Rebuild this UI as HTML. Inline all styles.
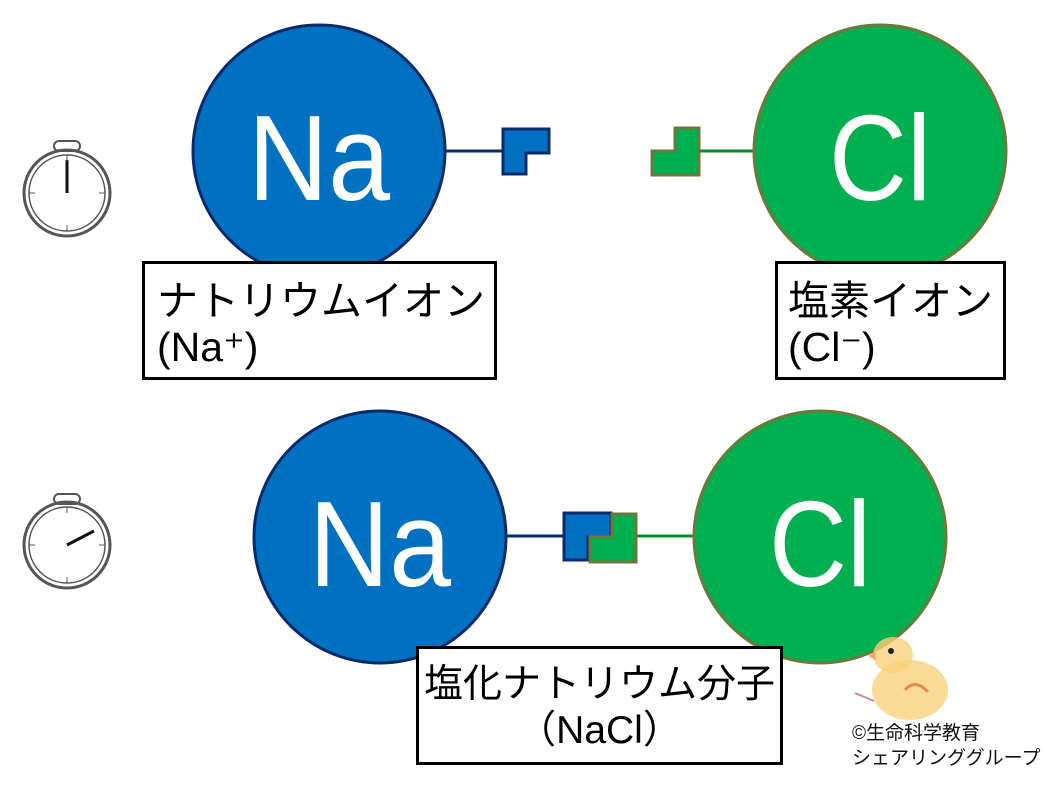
<!DOCTYPE html>
<html><head><meta charset="utf-8"><style>
body{margin:0;background:#fff;width:1063px;height:807px;overflow:hidden;position:relative;font-family:"Liberation Sans","Noto Sans CJK JP",sans-serif;}
svg{position:absolute;left:0;top:0}
.box{position:absolute;border:3px solid #000;background:#fff;box-sizing:border-box;font-size:41px;line-height:46px;color:#000;white-space:nowrap}
</style></head><body>
<svg width="1063" height="807" viewBox="0 0 1063 807">
<line x1="443" y1="151" x2="504" y2="151" stroke="#0b2a6b" stroke-width="3"/>
<circle cx="319" cy="151" r="126" fill="#0070c0" stroke="#0b2a6b" stroke-width="3"/>
<text x="319" y="200" font-size="122" fill="#fff" text-anchor="middle" font-family="Liberation Sans,sans-serif" textLength="142" lengthAdjust="spacingAndGlyphs">Na</text>
<path d="M503 129 H549 V153 H526 V174 H503 Z" fill="#0070c0" stroke="#0b2a6b" stroke-width="3"/>
<line x1="699" y1="151" x2="756" y2="151" stroke="#078b2c" stroke-width="3"/>
<circle cx="880" cy="151" r="126" fill="#00b050" stroke="#6b7a3a" stroke-width="3"/>
<text x="880" y="200" font-size="122" fill="#fff" text-anchor="middle" font-family="Liberation Sans,sans-serif" textLength="102" lengthAdjust="spacingAndGlyphs">Cl</text>
<path d="M652 151 H675 V128 H699 V175 H652 Z" fill="#00b050" stroke="#6b7a3a" stroke-width="3"/>
<line x1="505" y1="536" x2="565" y2="536" stroke="#0b2a6b" stroke-width="3"/>
<circle cx="380" cy="537" r="126" fill="#0070c0" stroke="#0b2a6b" stroke-width="3"/>
<text x="380" y="586" font-size="122" fill="#fff" text-anchor="middle" font-family="Liberation Sans,sans-serif" textLength="142" lengthAdjust="spacingAndGlyphs">Na</text>
<line x1="636" y1="536" x2="696" y2="536" stroke="#078b2c" stroke-width="3"/>
<circle cx="820" cy="537" r="126" fill="#00b050" stroke="#6b7a3a" stroke-width="3"/>
<text x="820" y="586" font-size="122" fill="#fff" text-anchor="middle" font-family="Liberation Sans,sans-serif" textLength="102" lengthAdjust="spacingAndGlyphs">Cl</text>
<path d="M564 513 H611 V537 H588 V560 H564 Z" fill="#0070c0" stroke="#0b2a6b" stroke-width="3"/>
<path d="M590 537 H612 V514 H636 V562 H590 Z" fill="#00b050" stroke="#6b7a3a" stroke-width="3"/>
<g fill="none" stroke="#555">
<rect x="54" y="141" width="26" height="10" rx="5" stroke-width="2"/>
<ellipse cx="67" cy="193" rx="43" ry="43" stroke-width="3"/>
<ellipse cx="67" cy="193" rx="38" ry="38" stroke-width="1.5"/>
<line x1="67" y1="193" x2="67" y2="160" stroke="#111" stroke-width="3"/>
<line x1="29" y1="193" x2="35" y2="193"/><line x1="99" y1="193" x2="105" y2="193"/><line x1="67" y1="225" x2="67" y2="231"/><line x1="67" y1="155" x2="67" y2="161"/>
<rect x="54" y="494" width="26" height="10" rx="5" stroke-width="2"/>
<ellipse cx="67" cy="545" rx="43" ry="43" stroke-width="3"/>
<ellipse cx="67" cy="545" rx="38" ry="38" stroke-width="1.5"/>
<line x1="67" y1="545" x2="94" y2="531" stroke="#111" stroke-width="3"/>
<line x1="29" y1="545" x2="35" y2="545"/><line x1="99" y1="545" x2="105" y2="545"/><line x1="67" y1="577" x2="67" y2="583"/><line x1="67" y1="507" x2="67" y2="513"/>
</g>
<ellipse cx="910" cy="690" rx="38" ry="30" fill="#f9d27a" opacity="0.8"/>
<ellipse cx="893" cy="655" rx="20" ry="18" fill="#f9d27a" opacity="0.8"/>
<circle cx="891" cy="651" r="3" fill="#222"/>
<path d="M875 652 L868 656 L876 660 Z" fill="#f4a46a"/>
<path d="M905 690 Q915 678 928 692" stroke="#e58a4a" stroke-width="3" fill="none"/>
<line x1="855" y1="693" x2="874" y2="701" stroke="#c89" stroke-width="2"/>
</svg>
<div class="box" style="left:142px;top:261px;width:355px;height:119px;padding:14px 0 0 12px">ナトリウムイオン<br>(Na⁺)</div>
<div class="box" style="left:775px;top:261px;width:231px;height:119px;padding:14px 0 0 10px">塩素イオン<br>(Cl⁻)</div>
<div class="box" style="left:416px;top:646px;width:367px;height:119px;padding:13px 0 0 0;text-align:center;font-size:39px">塩化ナトリウム分子<br>（NaCl）</div>
<div style="position:absolute;left:852px;top:721px;font-size:19px;line-height:25px;color:#111">©生命科学教育<br>シェアリンググループ</div>
</body></html>
